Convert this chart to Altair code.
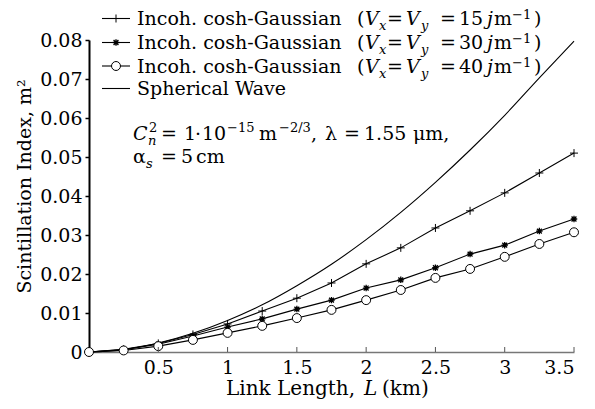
import altair as alt
import pandas as pd

# ---------------- data ----------------
L_km = [0, 0.25, 0.5, 0.75, 1.0, 1.25, 1.5, 1.75, 2.0, 2.25, 2.5, 2.75, 3.0, 3.25, 3.5]
cosh_15 = [0, 0.0007, 0.0022, 0.0045, 0.0072, 0.0105, 0.0138, 0.0177, 0.0226, 0.0267,
           0.0318, 0.0362, 0.0408, 0.0459, 0.0510]
cosh_30 = [0, 0.0006, 0.0020, 0.0041, 0.0064, 0.0085, 0.0110, 0.0133, 0.0164, 0.0185,
           0.0216, 0.0251, 0.0274, 0.0310, 0.0341]
cosh_40 = [0, 0.0004, 0.0015, 0.0031, 0.0049, 0.0067, 0.0087, 0.0108, 0.0133, 0.0159,
           0.0190, 0.0213, 0.0244, 0.0277, 0.0307]
spherical = [0, 0.0006, 0.0023, 0.0048, 0.0081, 0.0121, 0.0170, 0.0225, 0.0288, 0.0358,
             0.0435, 0.0518, 0.0607, 0.0703, 0.0797]
x_ticks = [0.5, 1, 1.5, 2, 2.5, 3, 3.5]
y_ticks = [0, 0.01, 0.02, 0.03, 0.04, 0.05, 0.06, 0.07, 0.08]
legend_nums = ["15", "30", "40"]

# ---------------- layout / style ----------------
W, H = 485, 312
FONT = "DejaVu Serif"
FS = 19
SUB = 13
PLUS = "M-1,0L1,0M0,-1L0,1"
STAR = "M-1,0L1,0M0,-1L0,1M-0.75,-0.75L0.75,0.75M-0.75,0.75L0.75,-0.75"

df = pd.DataFrame({"L": L_km, "c15": cosh_15, "c30": cosh_30, "c40": cosh_40, "sph": spherical})
ticks_df = pd.DataFrame({"t": x_ticks})

xs = alt.Scale(domain=[0, 3.5], nice=False, zero=False)
ys = alt.Scale(domain=[0, 0.08], nice=False)

xaxis = alt.Axis(values=x_ticks, format=".1~f", title=None, grid=False, ticks=False, tickSize=0,
                 domainColor="#777777", domainWidth=1.5, labelFont=FONT, labelFontSize=FS,
                 labelColor="black", labelPadding=6)
yaxis = alt.Axis(values=y_ticks, format=".2~f", title="Scintillation Index,   m²", grid=False,
                 domainColor="black", domainWidth=2, tickColor="black", tickSize=4, tickWidth=1.5,
                 labelFont=FONT, labelFontSize=FS, labelColor="black", labelPadding=3,
                 titleFont=FONT, titleFontSize=FS, titleFontWeight="normal", titleColor="black",
                 titleAngle=270, titleX=-59, titleY=146, titleAlign="center",
                 titleBaseline="alphabetic")

EMPTY = alt.Data(values=[{}])


def X(field):
    return alt.X(field, scale=xs, axis=xaxis)


def Y(field):
    return alt.Y(field, scale=ys, axis=yaxis)


def line(col, interp="linear"):
    return alt.Chart(df).mark_line(color="black", strokeWidth=1.1, interpolate=interp).encode(
        x=X("L:Q"), y=Y(f"{col}:Q"))


def pts(col, shape, size, fill=None, sw=1.0):
    kw = dict(shape=shape, size=size, stroke="black", strokeWidth=sw, opacity=1)
    if fill:
        kw.update(filled=True, fill=fill)
    else:
        kw.update(filled=False)
    return alt.Chart(df).mark_point(**kw).encode(x=X("L:Q"), y=Y(f"{col}:Q"))


def txt(s, x, y, size=FS, style="normal"):
    return alt.Chart(EMPTY).mark_text(text=s, font=FONT, fontSize=size, fontStyle=style,
                                      align="left", baseline="alphabetic", color="black").encode(
        x=alt.value(x), y=alt.value(y))


def seg(x1, x2, y):
    return alt.Chart(EMPTY).mark_rule(color="black", strokeWidth=1.1).encode(
        x=alt.value(x1), x2=alt.value(x2), y=alt.value(y))


def marker(shape, size, x, y, fill=None, sw=1.0):
    kw = dict(shape=shape, size=size, stroke="black", strokeWidth=sw, opacity=1)
    if fill:
        kw.update(filled=True, fill=fill)
    else:
        kw.update(filled=False)
    return alt.Chart(EMPTY).mark_point(**kw).encode(x=alt.value(x), y=alt.value(y))


layers = [
    line("sph", interp="monotone"),
    line("c15"), line("c30"), line("c40"),
    pts("c15", PLUS, 64),
    pts("c30", STAR, 42, sw=1.3),
    pts("c40", "circle", 80, fill="white"),
    alt.Chart(ticks_df).mark_rule(color="#555555", strokeWidth=1).encode(
        x=X("t:Q"), y=alt.value(H), y2=alt.value(H - 5)),
]

# ---------------- manual legend ----------------
line_y = [-21.5, 2.5, 26, 48.5]
base_y = [-15, 9, 32.5, 55]
shapes = [(PLUS, 64, None, 1.0), (STAR, 42, None, 1.3), ("circle", 80, "white", 1.0)]
for i in range(3):
    ly, by = line_y[i], base_y[i]
    shp, sz, fl, sw = shapes[i]
    layers += [
        seg(13, 41, ly), marker(shp, sz, 27, ly, fl, sw),
        txt("Incoh. cosh-Gaussian", 48, by),
        txt("(", 268, by),
        txt("V", 276, by, style="italic"),
        txt("x", 290, by + 5, SUB, "italic"),
        txt("=", 298, by),
        txt("V", 317, by, style="italic"),
        txt("y", 332, by + 5, SUB, "italic"),
        txt("=", 351, by),
        txt(legend_nums[i], 370, by),
        txt("j", 398, by, style="italic"),
        txt("m", 405, by),
        txt("−1", 423, by - 6, SUB),
        txt(")", 445, by),
    ]
layers += [seg(13, 41, line_y[3]), txt("Spherical Wave", 48, base_y[3])]

# ---------------- annotation ----------------
b1, b2 = 100, 123
layers += [
    txt("C", 44, b1, style="italic"),
    txt("2", 60, b1 - 8, SUB),
    txt("n", 59, b1 + 5, SUB, "italic"),
    txt("=", 72, b1),
    txt("1", 95, b1),
    txt("·", 106, b1),
    txt("10", 113, b1),
    txt("−15", 138, b1 - 8, SUB),
    txt("m", 170, b1),
    txt("−2/3", 190, b1 - 8, SUB),
    txt(",", 222, b1),
    txt("λ", 236, b1),
    txt("=", 255, b1),
    txt("1.55", 275, b1),
    txt("μm,", 324, b1),
    txt("α", 44, b2),
    txt("s", 57, b2 + 5, SUB, "italic"),
    txt("=", 72, b2),
    txt("5", 92, b2),
    txt("cm", 107, b2),
]

# ---------------- x-axis title ----------------
layers += [
    txt("Link Length,", 137, 355, size=20),
    txt("L", 275, 355, size=20, style="italic"),
    txt("(km)", 293, 355, size=20),
]

chart = alt.layer(*layers).properties(
    width=W, height=H,
    autosize=alt.AutoSizeParams(type="none"),
    padding={"left": 81, "top": 32, "right": 13, "bottom": 49},
).configure_view(stroke=None)

chart.save("out.html", embed_options={"renderer": "svg", "actions": False})
